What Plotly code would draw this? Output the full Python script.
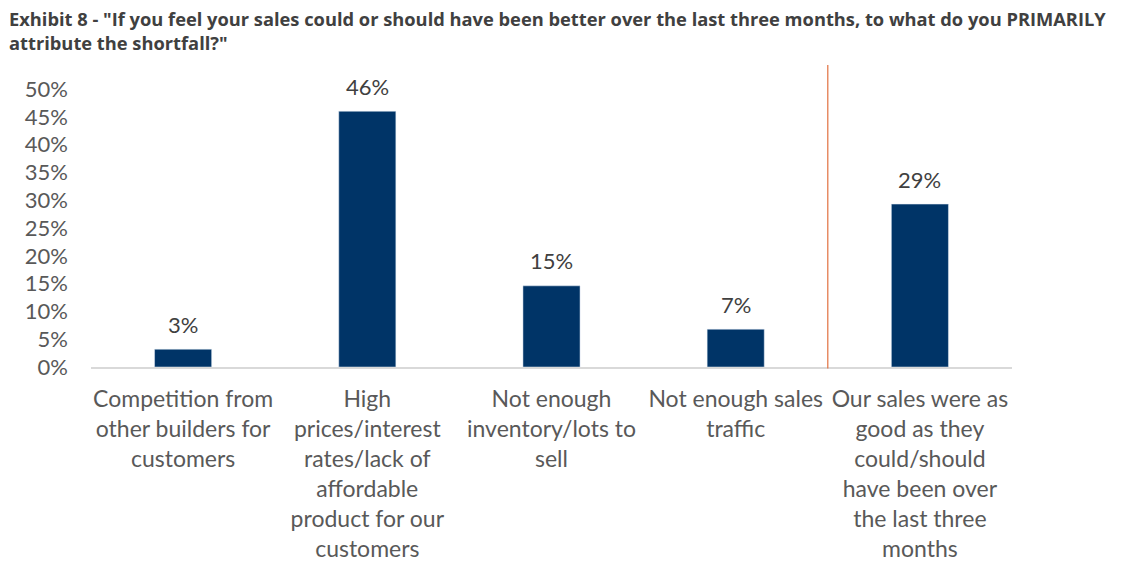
import plotly.graph_objects as go

categories = [
    "Competition from<br>other builders for<br>customers",
    "High<br>prices/interest<br>rates/lack of<br>affordable<br>product for our<br>customers",
    "Not enough<br>inventory/lots to<br>sell",
    "Not enough sales<br>traffic",
    "Our sales were as<br>good as they<br>could/should<br>have been over<br>the last three<br>months",
]
values = [0.032, 0.46, 0.146, 0.068, 0.293]
labels = ["3%", "46%", "15%", "7%", "29%"]
y_ticks = [0, 0.05, 0.10, 0.15, 0.20, 0.25, 0.30, 0.35, 0.40, 0.45, 0.50]

FONT = "Lato"

fig = go.Figure(go.Bar(
    x=categories, y=values,
    marker=dict(color="#003467"), width=0.31,
))

for c, v, t in zip(categories, values, labels):
    fig.add_annotation(x=c, y=v, text=t, showarrow=False, yanchor="middle", yshift=25,
                       font=dict(family=FONT, size=22, color="#404040"))

fig.add_annotation(
    text='Exhibit 8 - "If you feel your sales could or should have been better over the last three months, to what do you PRIMARILY<br>attribute the shortfall?"',
    xref="paper", yref="paper", x=-84/921, y=1 + 85/278, xanchor="left", yanchor="top",
    align="left", showarrow=False,
    font=dict(family="Open Sans", size=18.3, color="#404040", weight="bold"),
)

fig.add_shape(type="line", xref="x", yref="paper", x0=3.5, x1=3.5, y0=-0.005, y1=1.086,
              line=dict(color="#E2703F", width=1.2))

fig.update_layout(
    width=1122, height=567,
    paper_bgcolor="white", plot_bgcolor="white",
    margin=dict(l=91, r=110, t=89, b=200, autoexpand=False),
    showlegend=False,
    xaxis=dict(showline=True, linecolor="#D9D9D9", linewidth=1.5, ticks="", automargin=False,
               ticklabelstandoff=11,
               tickfont=dict(family=FONT, size=23, color="#595959"), showgrid=False),
    yaxis=dict(range=[0, 0.5], tickvals=y_ticks, tickformat=".0%", showgrid=False, zeroline=False,
               showline=False, ticks="", ticklabelstandoff=22, automargin=False,
               tickfont=dict(family=FONT, size=22, color="#595959")),
)

fig.write_html("out.html", config={"displayModeBar": False},
               post_script="document.body.style.margin='0';")
